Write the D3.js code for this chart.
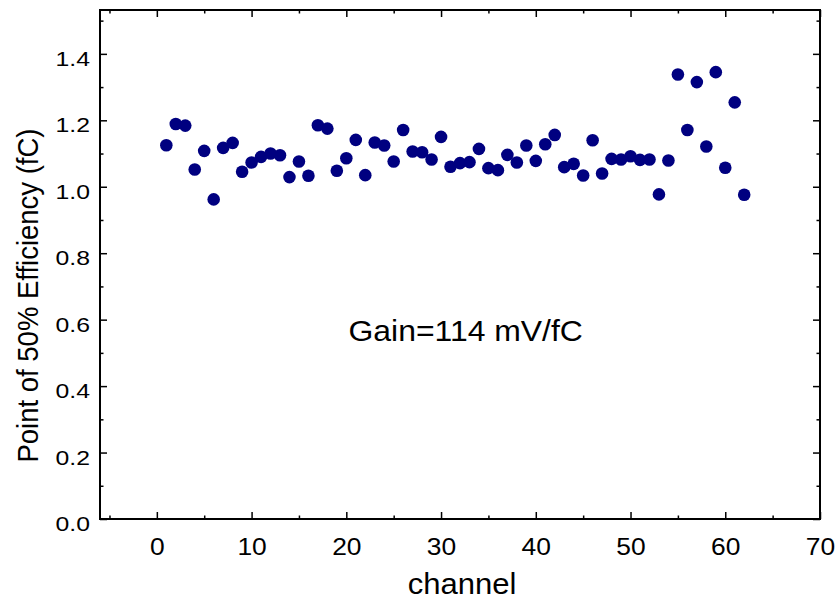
<!DOCTYPE html>
<html>
<head>
<meta charset="utf-8">
<script src="https://cdn.jsdelivr.net/npm/d3@7"></script>
<style>
  body { margin: 0; background: #fff; }
  svg { display: block; font-family: "Liberation Sans", Arial, sans-serif; }
</style>
</head>
<body>
<svg id="mount" width="835" height="600"></svg>
<script>
var markColor = "#000080";

// channel numbers and measured 50% efficiency points (fC)
var channels = [
  1, 2, 3, 4, 5, 6, 7, 8, 9, 10, 11, 12, 13, 14, 15, 16, 17, 18, 19, 20, 21,
  22, 23, 24, 25, 26, 27, 28, 29, 30, 31, 32, 33, 34, 35, 36, 37, 38, 39, 40,
  41, 42, 43, 44, 45, 46, 47, 48, 49, 50, 51, 52, 53, 54, 55, 56, 57, 58, 59,
  60, 61, 62
];
var efficiencyPoint = [
  1.125, 1.189, 1.184, 1.052, 1.108, 0.962, 1.117, 1.132, 1.045, 1.073,
  1.090, 1.100, 1.095, 1.029, 1.076, 1.033, 1.185, 1.175, 1.048, 1.086,
  1.141, 1.035, 1.133, 1.124, 1.076, 1.171, 1.106, 1.104, 1.082, 1.150,
  1.060, 1.071, 1.074, 1.114, 1.056, 1.050, 1.096, 1.073, 1.124, 1.078,
  1.128, 1.156, 1.059, 1.069, 1.034, 1.140, 1.040, 1.084, 1.082, 1.092,
  1.081, 1.082, 0.977, 1.079, 1.338, 1.171, 1.315, 1.121, 1.345, 1.057,
  1.254, 0.976
];

var xTicks = [0, 10, 20, 30, 40, 50, 60, 70];
var xMinorTicks = [-5, 5, 15, 25, 35, 45, 55, 65];
var yTicks = [0, 0.2, 0.4, 0.6, 0.8, 1.0, 1.2, 1.4];
var yMinorTicks = [0.1, 0.3, 0.5, 0.7, 0.9, 1.1, 1.3, 1.5];

var xLabel = "channel";
var yLabel = "Point of 50% Efficiency (fC)";
var note = "Gain=114 mV/fC";

var svg = d3.select("#mount");
var margin = { top: 10, right: 15, bottom: 81, left: 100 };
var width = 835 - margin.left - margin.right;
var height = 600 - margin.top - margin.bottom;

var g = svg.append("g")
  .attr("transform", "translate(" + margin.left + "," + margin.top + ")");

var x = d3.scaleLinear().domain([-6, 70]).range([0, width]);
var y = d3.scaleLinear().domain([0, 1.532]).range([height, 0]);

// inward ticks on all four sides, labels are placed by hand below
function tickAxis(axisFn, scale, ticks, size, fmt) {
  return axisFn(scale)
    .tickValues(ticks)
    .tickSizeInner(-size)
    .tickSizeOuter(0)
    .tickFormat(fmt || "");
}

function styleAxis(sel) {
  sel.attr("font-size", null).attr("font-family", null);
  sel.select(".domain").remove();
  sel.selectAll("line").attr("stroke", "#000").attr("stroke-width", 1.5);
  sel.selectAll("text").attr("fill", "#000");
}

var axBottom = g.append("g").attr("transform", "translate(0," + height + ")");
axBottom.call(tickAxis(d3.axisBottom, x, xTicks, 7, d3.format("d"))).call(styleAxis);
axBottom.append("g").call(tickAxis(d3.axisBottom, x, xMinorTicks, 3.5)).call(styleAxis);

var axTop = g.append("g");
axTop.call(tickAxis(d3.axisTop, x, xTicks, 7)).call(styleAxis);
axTop.append("g").call(tickAxis(d3.axisTop, x, xMinorTicks, 3.5)).call(styleAxis);

var axLeft = g.append("g");
axLeft.call(tickAxis(d3.axisLeft, y, yTicks, 7, d3.format(".1f"))).call(styleAxis);
axLeft.append("g").call(tickAxis(d3.axisLeft, y, yMinorTicks, 3.5)).call(styleAxis);

var axRight = g.append("g").attr("transform", "translate(" + width + ",0)");
axRight.call(tickAxis(d3.axisRight, y, yTicks, 7)).call(styleAxis);
axRight.append("g").call(tickAxis(d3.axisRight, y, yMinorTicks, 3.5)).call(styleAxis);

// the original's lettering is a little wider than Arial
axBottom.selectAll(".tick text")
  .attr("x", null).attr("y", null).attr("dy", null)
  .attr("transform", "translate(0,36) scale(1.1,1)")
  .style("font-size", "24px");

axLeft.selectAll(".tick text")
  .attr("x", null).attr("y", null).attr("dy", null)
  .attr("transform", "translate(-10,11.5) scale(1.18,1)")
  .style("font-size", "21px");

// frame
g.append("rect")
  .attr("width", width)
  .attr("height", height)
  .attr("fill", "none")
  .attr("stroke", "#000")
  .attr("stroke-width", 2);

// points
g.append("g")
  .selectAll("circle")
  .data(channels)
  .join("circle")
  .attr("cx", function(d) { return x(d); })
  .attr("cy", function(d, i) { return y(efficiencyPoint[i]); })
  .attr("r", 6.3)
  .attr("fill", markColor);

// annotation
g.append("text")
  .attr("transform", "translate(" + x(32.6) + "," + y(0.535) + ") scale(1.1,1)")
  .attr("text-anchor", "middle")
  .style("font-size", "29px")
  .text(note);

// axis titles
svg.append("text")
  .attr("transform", "translate(" + (margin.left + width / 2 + 2) + ",594) scale(1.07,1)")
  .attr("text-anchor", "middle")
  .style("font-size", "29px")
  .text(xLabel);

svg.append("text")
  .attr("transform", "translate(38,295.5) scale(1.1,1) rotate(-90)")
  .attr("text-anchor", "middle")
  .style("font-size", "27.5px")
  .text(yLabel);
</script>
</body>
</html>
